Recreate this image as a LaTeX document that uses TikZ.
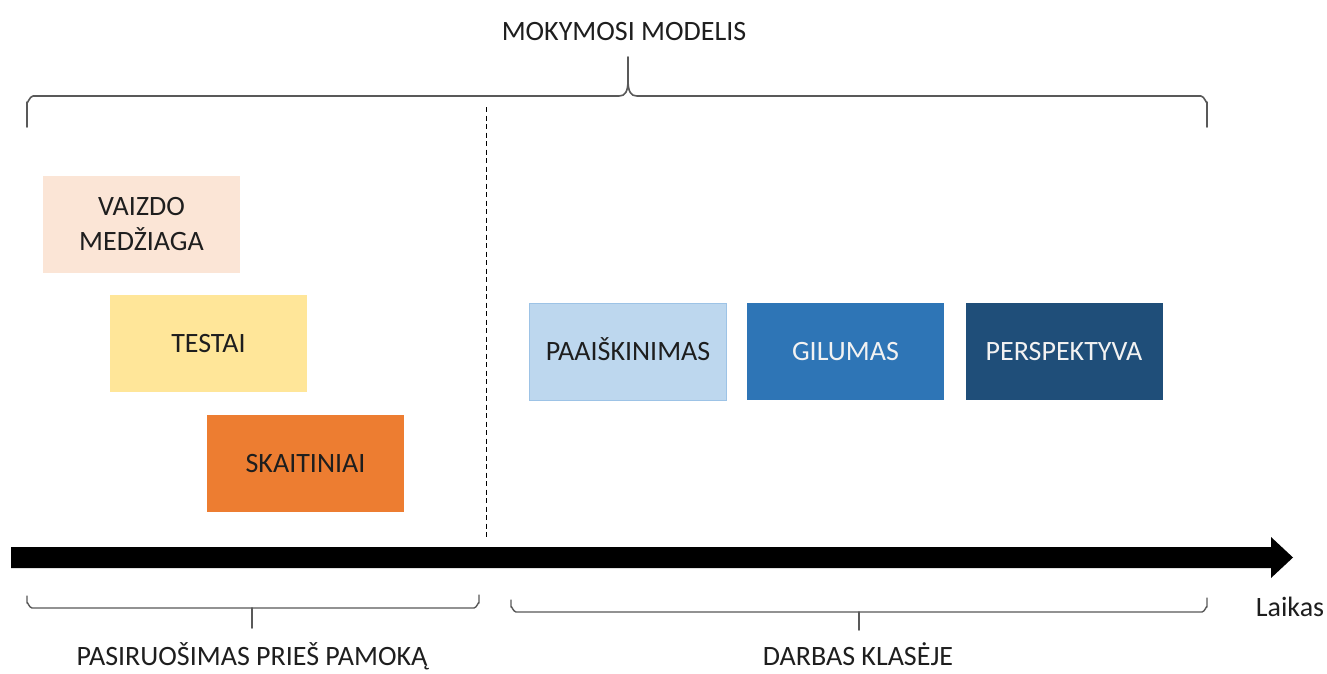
\documentclass[tikz,border=0pt]{standalone}
\usepackage{fontspec}
\setmainfont{Carlito}
\definecolor{peach}{HTML}{FBE5D6}
\definecolor{yell}{HTML}{FFE699}
\definecolor{orng}{HTML}{ED7D31}
\definecolor{lblue}{HTML}{BDD7EE}
\definecolor{lbluebd}{HTML}{9DC3E6}
\definecolor{mblue}{HTML}{2E75B6}
\definecolor{dblue}{HTML}{1F4E79}
\definecolor{txt}{HTML}{1E1E1E}
\definecolor{brc}{HTML}{595959}
\tikzset{
  stepbox/.style={draw=none, minimum width=197pt, minimum height=97pt, inner sep=0pt,
    font=\fontsize{28}{35}\selectfont, text=txt, text height=18pt, text depth=0pt, align=center},
  lbl/.style={font=\fontsize{28}{35}\selectfont, text=txt, inner sep=0pt, anchor=base},
  bracel/.style={draw=brc, line width=1.6pt, line cap=round, line join=round}
}
\begin{document}
\begin{tikzpicture}[x=1pt,y=-1pt]
\useasboundingbox[fill=white] (0,0) rectangle (1327,673);

% title
\node[lbl] (title) at (624,40) {MOKYMOSI MODELIS};

% top brace
\draw[bracel] (27,127) -- (27,102) to[out=-90,in=180] (33,96) -- (619,96)
  .. controls (625,96) and (628,92) .. (628,80) -- (628,57);
\draw[bracel] (628,80) .. controls (628,92) and (631,96) .. (637,96) -- (1201,96)
  to[out=0,in=-90] (1207,102) -- (1207,127);

% dashed divider
\coordinate (dtop) at (486,107);
\coordinate (dbot) at (486,540);
\draw[black, line width=1pt, dash pattern=on 5pt off 3.5pt] (dtop) -- (dbot);

% left boxes
\node[stepbox, fill=peach, text height=, text depth=] (vaizdo) at (141.5,224) {VAIZDO\\MEDŽIAGA};
\node[stepbox, fill=yell] (testai) at (208.5,343.5) {TESTAI};
\node[stepbox, fill=orng] (skait) at (305.5,463) {SKAITINIAI};

% right boxes
\node[stepbox, fill=lblue, draw=lbluebd, line width=0.8pt] (paaisk) at (628,351.5) {PAAIŠKINIMAS};
\node[stepbox, fill=mblue, text=white!95!black] (gilumas) at (845.5,351.5) {GILUMAS};
\node[stepbox, fill=dblue, text=white!95!black] (persp) at (1064,351.5) {PERSPEKTYVA};

% time arrow
\fill[black] (11,547) -- (1271,547) -- (1271,537) -- (1293,557.5) -- (1271,578) -- (1271,568) -- (11,568) -- cycle;
\node[lbl] (laikas) at (1290,616) {Laikas};

% bottom braces
\draw[bracel, line width=1.4pt] (27,596) -- (27,603) to[out=90,in=180] (32,608) -- (474,608)
  to[out=0,in=90] (479,603) -- (479,595);
\draw[bracel, line width=1.6pt] (252,608) -- (252,628);
\draw[bracel, line width=1.4pt] (511,600) -- (511,607) to[out=90,in=180] (516,612) -- (1202,612)
  to[out=0,in=90] (1207,607) -- (1207,598);
\draw[bracel, line width=1.6pt] (859,612) -- (859,630);

\node[lbl] (pasir) at (252,665) {PASIRUOŠIMAS PRIEŠ PAMOKĄ};
\node[lbl] (darbas) at (858,665) {DARBAS KLASĖJE};
\end{tikzpicture}
\end{document}
